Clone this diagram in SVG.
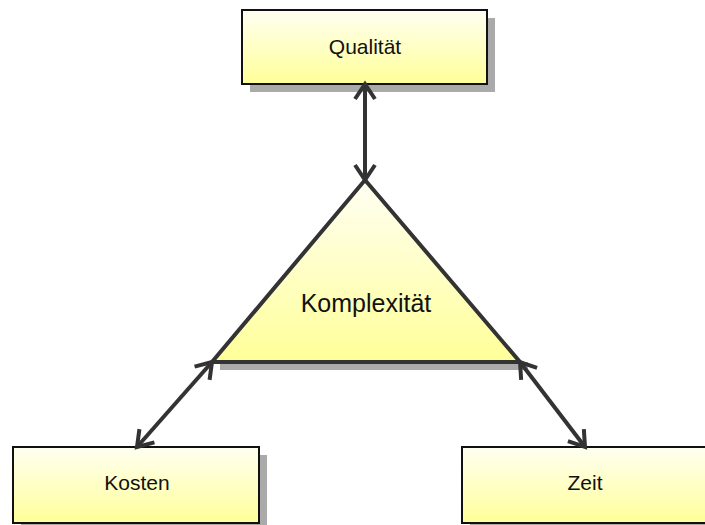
<svg xmlns="http://www.w3.org/2000/svg" width="705" height="525" viewBox="0 0 705 525">
  <style>
    .box { stroke: #111; stroke-width: 2; fill: url(#boxFill); }
    .shadow { fill: #aaaaaa; }
    .label { font-family: "Liberation Sans", Arial, sans-serif; font-size: 21px; fill: #111; text-anchor: middle; dominant-baseline: central; }
    .conn { stroke: #333; stroke-width: 4; fill: none; marker-start: url(#head); marker-end: url(#head); }
  </style>
  <defs>
    <linearGradient id="boxFill" x1="0" y1="0" x2="0" y2="1">
      <stop offset="0" stop-color="#fffff2"/>
      <stop offset="1" stop-color="#ffff99"/>
    </linearGradient>
    <linearGradient id="triFill" x1="0" y1="0" x2="0" y2="1">
      <stop offset="0" stop-color="#fffff4"/>
      <stop offset="1" stop-color="#ffff99"/>
    </linearGradient>
    <marker id="head" viewBox="0 0 16 22" refX="16" refY="11" markerWidth="16" markerHeight="22" markerUnits="userSpaceOnUse" orient="auto-start-reverse" overflow="visible">
      <path d="M1,1 L16,11 L1,21" fill="none" stroke="#333" stroke-width="4" stroke-linejoin="miter"/>
    </marker>
  </defs>

  <g id="qualitaet">
    <rect class="shadow" x="250" y="18" width="245" height="74"/>
    <rect class="box" x="242" y="10" width="245" height="74"/>
    <text class="label" x="365" y="46">Qualität</text>
  </g>

  <g id="komplexitaet">
    <polygon class="shadow" points="220,362 528,362 528,370 220,370"/>
    <polygon points="365,180 520,362 212,362" fill="url(#triFill)" stroke="#333" stroke-width="4" stroke-linejoin="miter"/>
    <text class="label" x="366" y="303" style="font-size:25px">Komplexität</text>
  </g>

  <g id="kosten">
    <rect class="shadow" x="21" y="455" width="246" height="76"/>
    <rect class="box" x="13" y="447" width="246" height="76"/>
    <text class="label" x="137" y="482">Kosten</text>
  </g>

  <g id="zeit">
    <rect class="shadow" x="470" y="455" width="260" height="76"/>
    <rect class="box" x="462" y="447" width="260" height="76"/>
    <text class="label" x="585" y="482">Zeit</text>
  </g>

  <g id="connectors">
    <line class="conn" x1="365" y1="84" x2="365" y2="180"/>
    <line class="conn" x1="212" y1="362" x2="137" y2="447"/>
    <line class="conn" x1="520" y1="362" x2="585" y2="447"/>
  </g>
</svg>
